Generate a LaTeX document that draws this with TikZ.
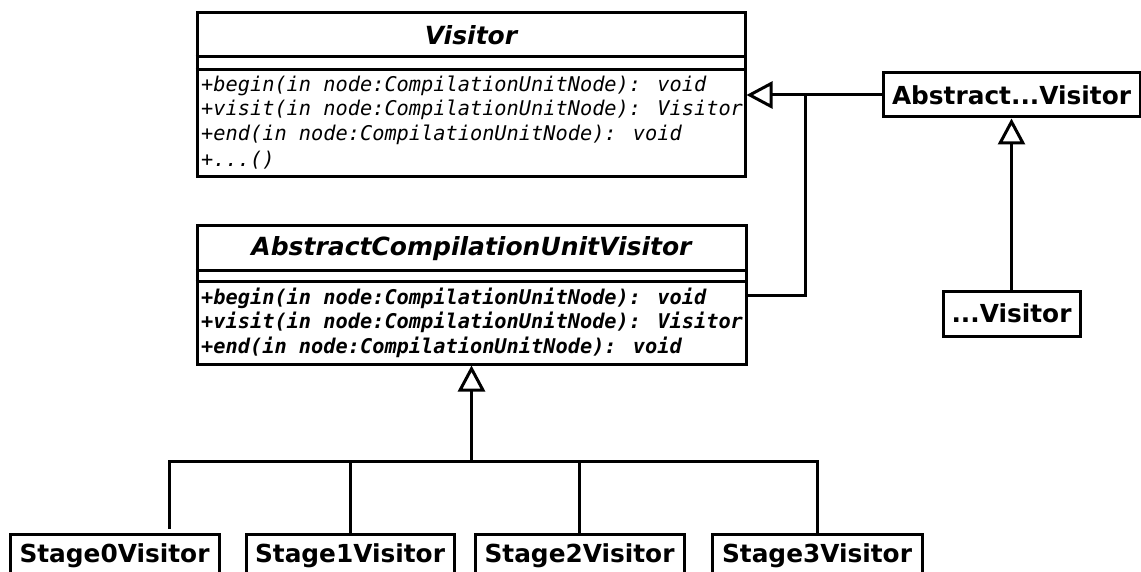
\documentclass[tikz,border=0pt]{standalone}
\usepackage{fontspec}
\setmainfont{DejaVu Sans}
\newfontfamily\opfont{DejaVu Sans Mono}
\usetikzlibrary{arrows.meta}
\begin{document}
\begin{tikzpicture}[x=1pt,y=-1pt]
\tikzset{
  boxline/.style={line width=3pt},
  clsbox/.style={draw, boxline, inner sep=0pt},
  clsname/.style={font=\fontsize{25}{29}\selectfont\bfseries\itshape, inner sep=0pt},
  simplebox/.style={draw, boxline, inner sep=0pt, font=\fontsize{24.8}{29}\selectfont\bfseries},
  opline/.style={font=\fontsize{20.3}{25}\selectfont\opfont\itshape, inner sep=0pt, anchor=west},
  bopline/.style={font=\fontsize{20.3}{25}\selectfont\opfont\bfseries\itshape, inner sep=0pt, anchor=west},
  conn/.style={line width=3pt},
  inh/.style={conn, -{Triangle[open, length=26pt, width=27pt]}}
}
\useasboundingbox (0,0) rectangle (1141,572);

% Visitor class
\node[clsbox, minimum width=548pt, minimum height=164pt] (visitor) at (471,95) {};
\draw[boxline] (visitor.west |- 0,57) -- (visitor.east |- 0,57);
\draw[boxline] (visitor.west |- 0,70) -- (visitor.east |- 0,70);
\node[clsname] (visitorname) at (471,35) {Visitor};
\node[opline] (v1) at (201,86) {+begin(in node:CompilationUnitNode): void};
\node[opline] (v2) at (201,110) {+visit(in node:CompilationUnitNode): Visitor};
\node[opline] (v3) at (201,135) {+end(in node:CompilationUnitNode): void};
\node[opline] (v4) at (201,160) {+...()};

% AbstractCompilationUnitVisitor class
\node[clsbox, minimum width=549pt, minimum height=138pt] (acuv) at (471.5,295) {};
\draw[boxline] (acuv.west |- 0,271) -- (acuv.east |- 0,271);
\draw[boxline] (acuv.west |- 0,282) -- (acuv.east |- 0,282);
\node[clsname] (acuvname) at (471.5,248.5) {AbstractCompilationUnitVisitor};
\node[bopline] (a1) at (201,298) {+begin(in node:CompilationUnitNode): void};
\node[bopline] (a2) at (201,322) {+visit(in node:CompilationUnitNode): Visitor};
\node[bopline] (a3) at (201,347) {+end(in node:CompilationUnitNode): void};

% right side
\node[simplebox, minimum width=257pt, minimum height=44pt] (absv) at (1011.5,95) {Abstract...Visitor};
\node[simplebox, minimum width=137pt, minimum height=45pt] (dotv) at (1011.5,313.5) {...Visitor};

% stages
\node[simplebox, minimum width=209pt, minimum height=44pt] (stage0) at (114.5,556) {Stage0Visitor};
\node[simplebox, minimum width=208pt, minimum height=44pt] (stage1) at (350,556) {Stage1Visitor};
\node[simplebox, minimum width=209pt, minimum height=44pt] (stage2) at (579.5,556) {Stage2Visitor};
\node[simplebox, minimum width=210pt, minimum height=44pt] (stage3) at (817,556) {Stage3Visitor};

% connectors
\draw[inh] (absv.west) -- (visitor.east);
\coordinate (j1) at (805,95);
\draw[conn] (acuv.east) -| (j1);
\draw[inh] (dotv.north) -- (absv.south);

\coordinate (bar) at (471.5,461);
\coordinate (barL) at (169,461);
\coordinate (s0top) at (169,529);
\draw[inh] (bar) -- (acuv.south);
\draw[conn] (s0top) -- (barL) -- (stage3.north |- bar) -- (stage3.north);
\draw[conn] (stage1.north |- bar) -- (stage1.north);
\draw[conn] (stage2.north |- bar) -- (stage2.north);
\end{tikzpicture}
\end{document}
